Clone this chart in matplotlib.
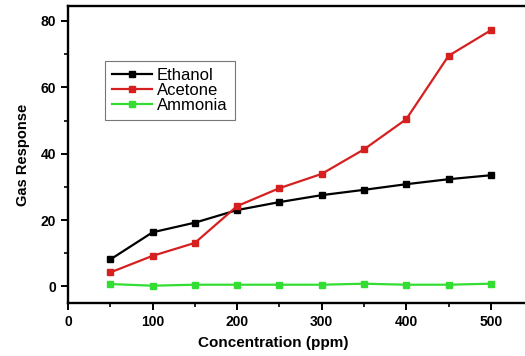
import numpy as np
import matplotlib.pyplot as plt
from matplotlib.ticker import MultipleLocator

plt.rcParams['font.family'] = ['Liberation Sans', 'DejaVu Sans']

conc = [50, 100, 150, 200, 250, 300, 350, 400, 450, 500]
ethanol = [8.1, 16.3, 19.2, 23.0, 25.4, 27.5, 29.1, 30.8, 32.3, 33.5]
acetone = [4.2, 9.2, 13.1, 24.2, 29.6, 33.9, 41.3, 50.4, 69.5, 77.2]
ammonia = [0.7, 0.2, 0.5, 0.5, 0.5, 0.5, 0.8, 0.5, 0.5, 0.8]

fig = plt.figure(figsize=(5.25, 3.56), dpi=100)
ax = fig.add_axes([0.1295, 0.149, 0.886, 0.834])

ax.plot(conc, ethanol, '-s', color='black', lw=1.6, ms=4.5, label='Ethanol')
ax.plot(conc, acetone, '-s', color='#d62020', lw=1.6, ms=4.5, label='Acetone')
ax.plot(conc, ammonia, '-s', color='#33dd33', lw=1.6, ms=4.5, label='Ammonia')

ax.set_xlim(0, 550)
ax.set_ylim(-5, 84.5)
ax.xaxis.set_major_locator(MultipleLocator(100))
ax.xaxis.set_minor_locator(MultipleLocator(50))
ax.yaxis.set_major_locator(MultipleLocator(20))
ax.yaxis.set_minor_locator(MultipleLocator(10))
ax.tick_params(which='major', direction='out', length=5, width=1.4, labelsize=10)
ax.tick_params(which='minor', direction='out', length=3, width=1.2)
for lab in ax.get_xticklabels() + ax.get_yticklabels():
    lab.set_fontweight('bold')
for s in ax.spines.values():
    s.set_linewidth(1.7)

ax.set_xlabel('Concentration (ppm)', fontsize=11, fontweight='bold')
ax.xaxis.set_label_coords(0.441, -0.112)
ax.set_ylabel('Gas Response', fontsize=10.5, fontweight='bold', labelpad=8)

leg = ax.legend(loc='upper left', bbox_to_anchor=(0.0796, 0.815), fontsize=12,
                frameon=True, fancybox=False, edgecolor='#555555',
                handlelength=2.4, handletextpad=0.3, borderpad=0.42,
                borderaxespad=0, labelspacing=0.0)
leg.get_frame().set_linewidth(0.8)

plt.savefig('out.png', dpi=100)
